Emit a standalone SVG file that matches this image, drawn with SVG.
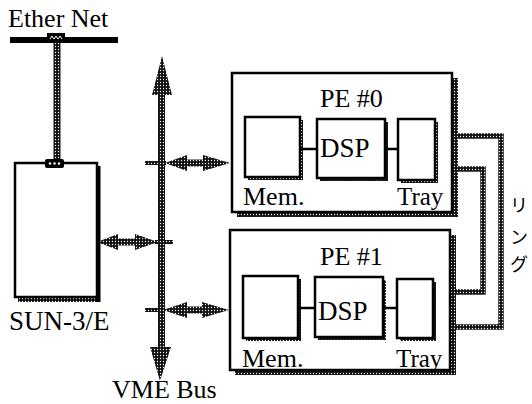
<svg xmlns="http://www.w3.org/2000/svg" width="532" height="404" viewBox="0 0 532 404">
<defs>
<pattern id="ht" width="3" height="3" patternUnits="userSpaceOnUse">
<rect width="3" height="3" fill="#111"/>
<circle cx="1.5" cy="1.5" r="0.65" fill="#fff"/>
</pattern>
<style>
text{font-family:"Liberation Serif","Times New Roman",serif;fill:#000}
.box{fill:#fff;stroke:#000;stroke-width:2.5}
.sh{fill:url(#ht)}
.ln{stroke:#000;stroke-width:2.5;fill:none}
.ring{stroke:url(#ht);stroke-width:5.5;fill:none}
.jp{font-family:"Noto Sans CJK JP",sans-serif;font-size:18px}
</style>
</defs>
<rect width="532" height="404" fill="#fff"/>

<g id="connectors">
<rect x="53.5" y="42" width="7" height="118" class="sh"/>
<polygon class="sh" points="158,95 152,95 162,56 172,95 165,95 165,347 171,347 160,381 150,347 158,347"/>
<rect x="145" y="161" width="21" height="4" class="sh"/>
<polygon class="sh" points="165,163 187,155 187,159.5 203,159.5 203,155 230,163 203,171 203,166.5 187,166.5 187,171"/>
<rect x="155" y="240" width="18" height="4" class="sh"/>
<polygon class="sh" points="97,242 118,234 118,238.5 135,238.5 135,234 158,242 135,250 135,245.5 118,245.5 118,250"/>
<rect x="145" y="308" width="20" height="4" class="sh"/>
<polygon class="sh" points="163,310 187,302 187,306.5 202,306.5 202,302 229,310 202,318 202,313.5 187,313.5 187,318"/>
<polyline class="ring" points="435,136 501,136 501,327 433,327"/>
<polyline class="ring" points="435,169 483,169 483,292 433,292"/>
</g>

<g id="ether-net">
<text x="8" y="27" font-size="26">Ether Net</text>
<rect x="10" y="37" width="108" height="6" fill="#000"/>
<rect x="47" y="33" width="18" height="9" fill="#000"/>
<path d="M50,39 l2,-3 l2,3 l2,-3 l2,3 l2,-3 l2,3" stroke="#fff" stroke-width="1" fill="none"/>
</g>

<g id="sun">
<rect x="18" y="297" width="82" height="5" class="sh"/>
<rect x="96" y="166" width="4.5" height="136" fill="#000"/>
<rect x="15" y="163" width="82" height="134" class="box"/>
<rect x="45" y="159" width="19" height="9" rx="2" fill="#000"/>
<circle cx="50" cy="163.5" r="1.2" fill="#fff"/>
<circle cx="54.5" cy="163.5" r="1.2" fill="#fff"/>
<circle cx="59" cy="163.5" r="1.2" fill="#fff"/>
<text x="9" y="330" font-size="27">SUN-3/E</text>
</g>

<g id="vme-bus">
<text x="112" y="398" font-size="26">VME Bus</text>
</g>

<g id="pe0">
<rect x="237" y="211" width="221" height="6" class="sh"/>
<rect x="451" y="78" width="7" height="139" class="sh"/>
<rect x="232" y="73" width="220" height="139" class="box"/>
<text x="320" y="107" font-size="26">PE #0</text>
<rect x="248" y="120" width="55" height="60" class="sh"/>
<rect x="245" y="117" width="55" height="60" class="box"/>
<rect x="320" y="122" width="68" height="59" class="sh"/>
<rect x="317" y="119" width="68" height="59" class="box"/>
<rect x="401" y="122" width="37" height="61" class="sh"/>
<rect x="398" y="119" width="37" height="61" class="box"/>
<line x1="300" y1="149" x2="317" y2="149" class="ln"/>
<line x1="385" y1="149" x2="398" y2="149" class="ln"/>
<text x="320" y="157" font-size="27">DSP</text>
<text x="243" y="205" font-size="26">Mem.</text>
<text x="397" y="205" font-size="25">Tray</text>
</g>

<g id="pe1">
<rect x="235" y="369" width="221" height="6" class="sh"/>
<rect x="449" y="235" width="7" height="140" class="sh"/>
<rect x="230" y="230" width="220" height="140" class="box"/>
<text x="320" y="265" font-size="26">PE #1</text>
<rect x="246" y="279" width="55" height="62" class="sh"/>
<rect x="243" y="276" width="55" height="62" class="box"/>
<rect x="318" y="280" width="68" height="60" class="sh"/>
<rect x="315" y="277" width="68" height="60" class="box"/>
<rect x="400" y="282" width="36" height="59" class="sh"/>
<rect x="397" y="279" width="36" height="59" class="box"/>
<line x1="298" y1="308" x2="315" y2="308" class="ln"/>
<line x1="383" y1="308" x2="397" y2="308" class="ln"/>
<text x="318" y="320" font-size="27">DSP</text>
<text x="242" y="367" font-size="26">Mem.</text>
<text x="396" y="367" font-size="25">Tray</text>
</g>

<g id="ring-label">
<text class="jp" x="519" y="212" text-anchor="middle">リ</text>
<text class="jp" x="519" y="244" text-anchor="middle">ン</text>
<text class="jp" x="519" y="271" text-anchor="middle">グ</text>
</g>
</svg>
